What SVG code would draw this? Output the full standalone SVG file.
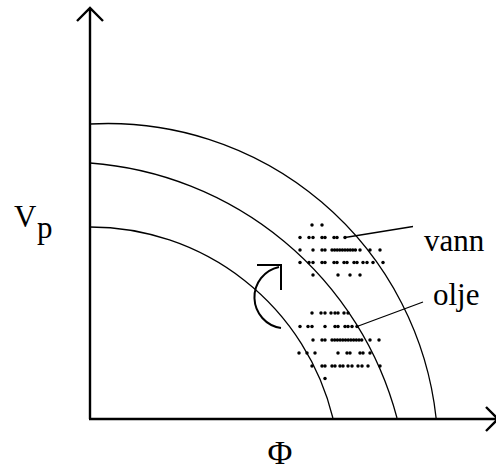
<svg xmlns="http://www.w3.org/2000/svg" width="496" height="474" viewBox="0 0 496 474">
<style>
.ax{fill:none;stroke:#000;stroke-width:2.4}
.cv{fill:none;stroke:#000;stroke-width:1.3}
.ld{fill:none;stroke:#000;stroke-width:1.3}
.rot{fill:none;stroke:#000;stroke-width:2}
circle{fill:#000;stroke:none}
text{font-family:"Liberation Serif","Times New Roman",serif;fill:#000}
.lb{font-size:31px}
</style>
<defs><circle id="d" r="1.75"/></defs>
<rect width="496" height="474" fill="#fff"/>
<g id="axes">
<path class="ax" d="M90 419V8M77 21L90 8L103 21"/>
<path class="ax" d="M89 419H498M486 407L498 419L486 431"/>
</g>
<g id="curves">
<path class="cv" d="M90 124A330.2 330.2 0 0 1 436.1 418"/>
<path class="cv" d="M90 163A344.2 344.2 0 0 1 397 418"/>
<path class="cv" d="M90 227A250 250 0 0 1 332.9 418"/>
</g>
<g id="rotation">
<path class="rot" d="M281 328A31 31 0 0 1 279 267"/>
<path class="rot" d="M257 265H281V290"/>
</g>
<g id="dots-vann">
<use href="#d" x="312" y="225"/><use href="#d" x="322" y="225"/>
<use href="#d" x="300" y="237.5"/><use href="#d" x="309" y="237.5"/><use href="#d" x="313" y="237.5"/><use href="#d" x="322" y="237.5"/><use href="#d" x="325" y="237.5"/><use href="#d" x="334" y="237.5"/><use href="#d" x="337" y="237.5"/><use href="#d" x="345" y="237.5"/>
<use href="#d" x="300" y="250"/><use href="#d" x="313" y="250"/><use href="#d" x="322" y="250"/><use href="#d" x="325" y="250"/><use href="#d" x="332" y="250"/><use href="#d" x="334.6" y="250"/><use href="#d" x="337.2" y="250"/><use href="#d" x="339.8" y="250"/><use href="#d" x="342.4" y="250"/><use href="#d" x="345" y="250"/><use href="#d" x="347.6" y="250"/><use href="#d" x="350.2" y="250"/><use href="#d" x="352.8" y="250"/><use href="#d" x="355.4" y="250"/><use href="#d" x="360" y="250"/><use href="#d" x="370" y="250"/><use href="#d" x="380" y="250"/>
<use href="#d" x="300" y="262.5"/><use href="#d" x="309" y="262.5"/><use href="#d" x="313" y="262.5"/><use href="#d" x="322" y="262.5"/><use href="#d" x="325" y="262.5"/><use href="#d" x="334" y="262.5"/><use href="#d" x="337" y="262.5"/><use href="#d" x="344" y="262.5"/><use href="#d" x="347" y="262.5"/><use href="#d" x="354" y="262.5"/><use href="#d" x="357" y="262.5"/><use href="#d" x="363" y="262.5"/><use href="#d" x="367" y="262.5"/><use href="#d" x="373" y="262.5"/><use href="#d" x="383" y="262.5"/>
<use href="#d" x="313" y="275"/><use href="#d" x="338" y="275"/><use href="#d" x="350" y="275"/><use href="#d" x="360" y="275"/>
</g>
<g id="dots-olje">
<use href="#d" x="312" y="313"/><use href="#d" x="321" y="313"/><use href="#d" x="325" y="313"/><use href="#d" x="331" y="313"/><use href="#d" x="335" y="313"/><use href="#d" x="338" y="313"/><use href="#d" x="344" y="313"/><use href="#d" x="348" y="313"/>
<use href="#d" x="300" y="326.5"/><use href="#d" x="308" y="326.5"/><use href="#d" x="312" y="326.5"/><use href="#d" x="325" y="326.5"/><use href="#d" x="335" y="326.5"/><use href="#d" x="338" y="326.5"/><use href="#d" x="345" y="326.5"/><use href="#d" x="348" y="326.5"/><use href="#d" x="352" y="326.5"/><use href="#d" x="357" y="326.5"/>
<use href="#d" x="313" y="340"/><use href="#d" x="322" y="340"/><use href="#d" x="325" y="340"/><use href="#d" x="332" y="340"/><use href="#d" x="334.7" y="340"/><use href="#d" x="337.4" y="340"/><use href="#d" x="340.1" y="340"/><use href="#d" x="342.8" y="340"/><use href="#d" x="345.5" y="340"/><use href="#d" x="348.2" y="340"/><use href="#d" x="350.9" y="340"/><use href="#d" x="353.6" y="340"/><use href="#d" x="356.3" y="340"/><use href="#d" x="359" y="340"/><use href="#d" x="361.7" y="340"/><use href="#d" x="370" y="340"/><use href="#d" x="379" y="340"/>
<use href="#d" x="299" y="353"/><use href="#d" x="307" y="353"/><use href="#d" x="315" y="353"/><use href="#d" x="338" y="353"/><use href="#d" x="347" y="353"/><use href="#d" x="350" y="353"/><use href="#d" x="360" y="353"/><use href="#d" x="363" y="353"/><use href="#d" x="370" y="353"/>
<use href="#d" x="312" y="366"/><use href="#d" x="322" y="366"/><use href="#d" x="325" y="366"/><use href="#d" x="332" y="366"/><use href="#d" x="335" y="366"/><use href="#d" x="340" y="366"/><use href="#d" x="343" y="366"/><use href="#d" x="348" y="366"/><use href="#d" x="352" y="366"/><use href="#d" x="358" y="366"/><use href="#d" x="362" y="366"/><use href="#d" x="368" y="366"/><use href="#d" x="380" y="366"/>
<use href="#d" x="325" y="378.5"/>
</g>
<g id="connectors">
<path class="ld" d="M345 237.5L413 226.5"/>
<path class="ld" d="M357 326.5L423 302"/>
</g>
<g id="label-vann"><text class="lb" x="424" y="251">vann</text></g>
<g id="label-olje"><text class="lb" x="433" y="305">olje</text></g>
<g id="label-vp"><text class="lb" x="14" y="227">V</text><text class="lb" x="37" y="238">p</text></g>
<g id="label-phi"><text x="280" y="464" text-anchor="middle" style="font-size:34px">Φ</text></g>
</svg>
